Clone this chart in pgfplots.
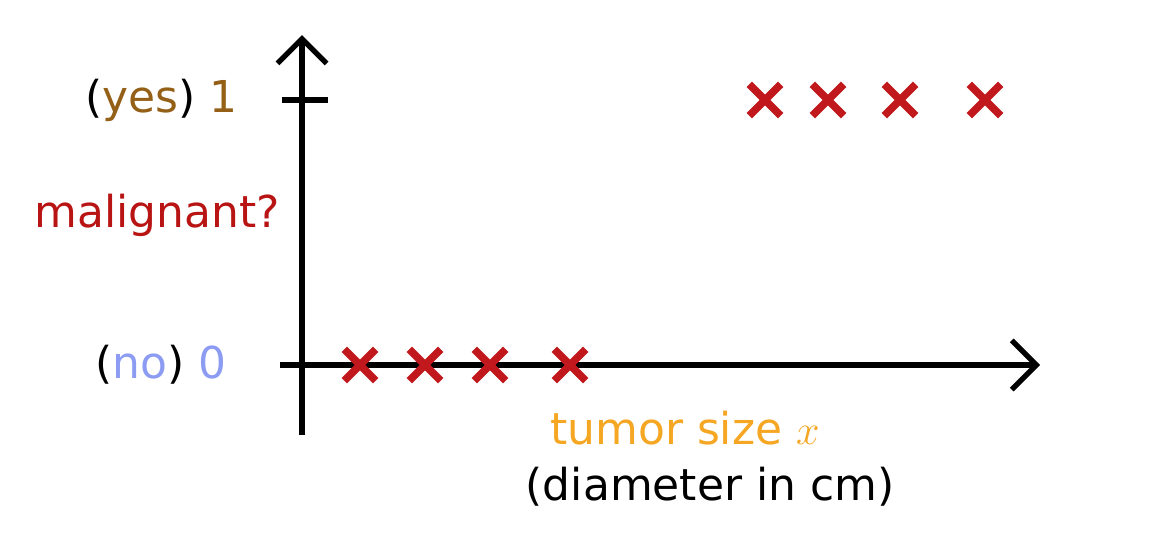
\documentclass[border=0pt]{standalone}
\usepackage{pgfplots}
\pgfplotsset{compat=1.18}
\usepackage{fontspec}
\setmainfont{DejaVu Sans}
\usetikzlibrary{arrows.meta}
\definecolor{crossred}{HTML}{C0181C}
\definecolor{malred}{HTML}{B81414}
\definecolor{yesbrown}{HTML}{946017}
\definecolor{noblue}{HTML}{8C9CF2}
\definecolor{tumorange}{HTML}{F5A623}
\begin{document}
\begin{tikzpicture}
\path[use as bounding box] (0,0) rectangle (11.63cm,5.52cm);
\begin{axis}[at={(0,0)}, anchor=south west, scale only axis,
  width=11.63cm, height=5.52cm,
  xmin=-3.02, xmax=8.61, ymin=-0.7057, ymax=1.3774,
  axis lines=none, clip=false]
\draw[line width=1.5pt, -{Straight Barb[length=7pt,width=14pt,line width=1.5pt]}] (axis cs:0,-0.264) -- (axis cs:0,1.245);
\draw[line width=1.5pt, -{Straight Barb[length=7pt,width=14pt,line width=1.5pt]}] (axis cs:-0.22,0) -- (axis cs:7.38,0);
\draw[line width=1.5pt] (axis cs:-0.2,1) -- (axis cs:0.26,1);
\addplot[only marks, mark=x, mark size=6.3pt, mark options={line width=2.2pt, color=crossred}]
 coordinates {(0.58,0) (1.23,0) (1.88,0) (2.68,0) (4.63,1) (5.26,1) (5.98,1) (6.83,1)};
\node[anchor=east, font=\fontsize{12.5}{14}\selectfont] at (axis cs:-0.52,1) {(\textcolor{yesbrown}{yes}) \textcolor{yesbrown}{1}};
\node[anchor=east, font=\fontsize{12.5}{14}\selectfont, text=malred] at (axis cs:-0.1,0.566) {malignant?};
\node[anchor=east, font=\fontsize{12.5}{14}\selectfont] at (axis cs:-0.63,0) {(\textcolor{noblue}{no}) \textcolor{noblue}{0}};
\node[font=\fontsize{12.5}{14}\selectfont, text=tumorange] at (axis cs:3.83,-0.238) {tumor size $x$};
\node[font=\fontsize{12.5}{14}\selectfont] at (axis cs:4.08,-0.46) {(diameter in cm)};
\end{axis}
\end{tikzpicture}
\end{document}
